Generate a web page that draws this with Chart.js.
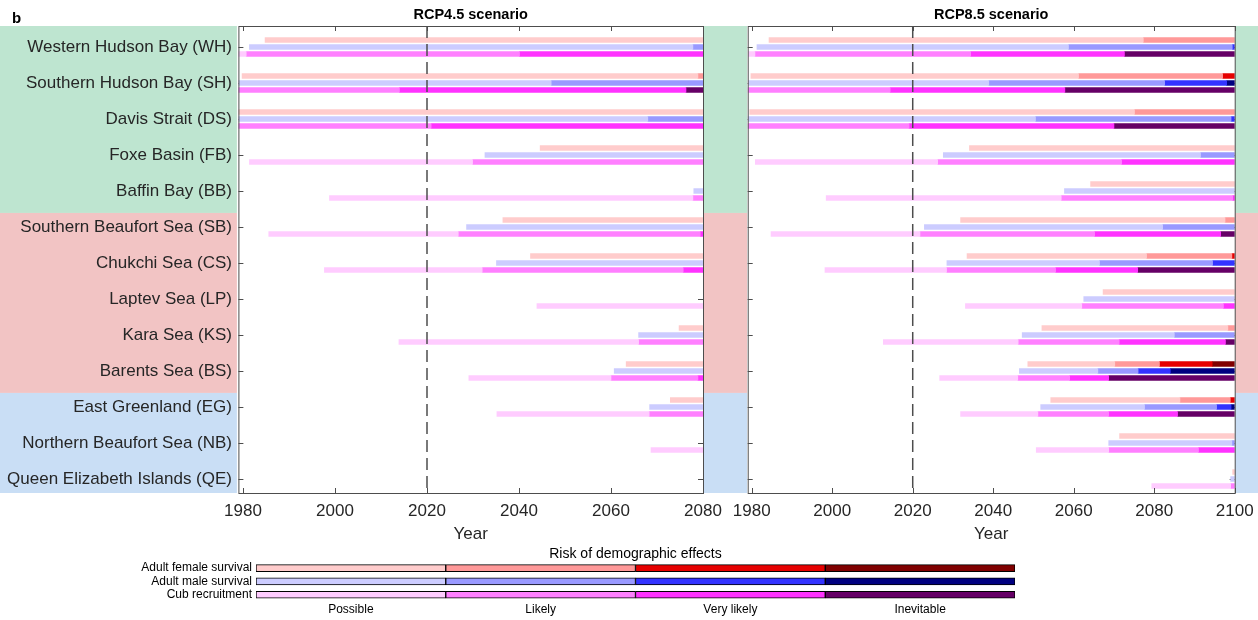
<!DOCTYPE html>
<html>
<head>
<meta charset="utf-8">
<script src="https://cdn.jsdelivr.net/npm/chart.js@4.4.0/dist/chart.umd.min.js"></script>
<style>
  body { margin: 0; background: #fff; font-family: "Liberation Sans", Arial, sans-serif; }
  #wrap { position: relative; width: 1258px; height: 620px; overflow: hidden; }
  canvas { position: absolute; }
  #panelTag { position: absolute; left: 12px; top: 9px; font: bold 15px "Liberation Sans", Arial, sans-serif; color: #000; }
</style>
</head>
<body>
<div id="wrap">
  <canvas id="rcp45" width="747" height="548" style="left:0;top:0"></canvas>
  <canvas id="rcp85" width="580" height="548" style="left:703px;top:0"></canvas>
  <canvas id="legendChart" width="1258" height="74" style="left:0;top:546px"></canvas>
  <div id="panelTag">b</div>
</div>
<script>
Chart.defaults.font.family = '"Liberation Sans", Arial, sans-serif';
Chart.defaults.color = '#262626';

// --- data ---
const regions = [
  'Western Hudson Bay (WH)', 'Southern Hudson Bay (SH)', 'Davis Strait (DS)', 'Foxe Basin (FB)',
  'Baffin Bay (BB)', 'Southern Beaufort Sea (SB)', 'Chukchi Sea (CS)', 'Laptev Sea (LP)',
  'Kara Sea (KS)', 'Barents Sea (BS)', 'East Greenland (EG)', 'Northern Beaufort Sea (NB)',
  'Queen Elizabeth Islands (QE)'
];
const regionGroup = [0, 0, 0, 0, 0, 1, 1, 1, 1, 1, 2, 2, 2];
const riskLevels = ['Possible', 'Likely', 'Very likely', 'Inevitable'];
const sexLabels = ['Adult female survival', 'Adult male survival', 'Cub recruitment'];
const yearTicks = [1980, 2000, 2020, 2040, 2060, 2080, 2100];
const presentYear = 2020;

// year at which each risk level begins: [possible, likely, very likely, inevitable]
const rcp45Female = [
  [1984.8, null, null, null], [1979.8, 2078.9, null, null], [1979, null, null, null], [2044.6, null, null, null],
  [null, null, null, null], [2036.5, null, null, null], [2042.5, null, null, null], [null, null, null, null],
  [2074.8, null, null, null], [2063.3, null, null, null], [2072.9, null, null, null], [null, null, null, null],
  [null, null, null, null]
];
const rcp45Male = [
  [1981.4, 2077.8, null, null], [1979, 2047, null, null], [1979, 2068, null, null], [2032.6, null, null, null],
  [2078, null, null, null], [2028.6, null, null, null], [2035.1, null, null, null], [null, null, null, null],
  [2066, null, null, null], [2060.7, null, null, null], [2068.4, null, null, null], [null, null, null, null],
  [null, null, null, null]
];
const rcp45Cub = [
  [1979, 1980.7, 2040.1, null], [null, 1979, 2014, 2076.3], [null, 1979, 2020.9, null], [1981.4, 2029.9, null, null],
  [1998.8, 2077.8, null, null], [1985.6, 2026.8, 2079.4, null], [1997.7, 2032, 2075.7, null], [2043.9, null, null, null],
  [2013.9, 2066, null, null], [2029.1, 2060, 2078.9, null], [2035.2, 2068.3, null, null], [2068.7, null, null, null],
  [null, null, null, null]
];
const rcp85Female = [
  [1984.3, 2077.3, null, null], [1979.8, 2061.2, 2097, null], [1979.5, 2075.1, null, null], [2034.1, null, null, null],
  [2064.2, null, null, null], [2031.9, 2097.6, null, null], [2033.5, 2078.1, 2099.3, null], [2067.3, null, null, null],
  [2052.1, 2098.3, null, null], [2048.6, 2070.2, 2081.3, 2094.4], [2054.3, 2086.4, 2098.9, null], [2071.4, null, null, null],
  [2099.5, null, null, null]
];
const rcp85Male = [
  [1981.3, 2058.7, 2099.4, null], [1979.2, 2038.9, 2082.6, 2098], [1979, 2050.5, 2099.1, null], [2027.6, 2091.5, null, null],
  [2057.7, null, null, null], [2022.9, 2082.1, null, null], [2028.5, 2066.4, 2094.5, null], [2062.5, null, null, null],
  [2047.2, 2085, null, null], [2046.5, 2066, 2076, 2084], [2051.8, 2077.6, 2095.5, 2099.1], [2068.7, 2099.3, null, null],
  [2099, null, null, null]
];
const rcp85Cub = [
  [1979.2, 1980.8, 2034.4, 2072.6], [null, 1979, 2014.4, 2057.8], [null, 1979, 2019.1, 2070], [1980.9, 2026.2, 2071.9, null],
  [1998.5, 2056.9, 2099.5, null], [1984.8, 2021.8, 2065.2, 2096.5], [1998.2, 2028.4, 2055.5, 2075.9], [2033.1, 2062, 2097.2, null],
  [2012.7, 2046.2, 2071.3, 2097.7], [2026.7, 2046.1, 2059, 2068.7], [2031.9, 2051.1, 2068.7, 2085.8], [2050.7, 2068.7, 2091, null],
  [2079.4, 2099, null, null]
];

// --- styles ---
const femaleColors = ['#ffcccc', '#ff9999', '#e60000', '#800000'];
const maleColors = ['#ccccff', '#9999ff', '#3333ff', '#000080'];
const cubColors = ['#ffccff', '#ff80ff', '#ff33ff', '#660066'];
const groupColors = ['#bee5d0', '#f2c4c4', '#c9def5'];
const axisColor = '#4d4d4d';

// one dataset per risk level; each bar runs until the next level starts
function segments(starts, endYear, offset, colors) {
  return colors.map((c, k) => {
    const data = [];
    starts.forEach((row, i) => {
      if (row[k] == null) return;
      let end = endYear;
      for (let j = k + 1; j < row.length; j++) {
        if (row[j] != null) { end = row[j]; break; }
      }
      data.push({ x: [row[k], end], y: i + offset });
    });
    return { data, backgroundColor: c };
  });
}

// coloured patches behind the region names and in the side strips
const regionBands = {
  id: 'regionBands',
  beforeDraw(chart, args, opts) {
    const { ctx, chartArea: a, scales: { y } } = chart;
    ctx.save();
    groupColors.forEach((col, g) => {
      const rows = regionGroup.map((v, i) => v === g ? i : -1).filter(i => i >= 0);
      const r0 = rows[0], r1 = rows[rows.length - 1];
      const top = r0 === 0 ? a.top : y.getPixelForValue(r0 - 0.39);
      const bottom = r1 === regions.length - 1 ? a.bottom : y.getPixelForValue(r1 + 0.61);
      ctx.fillStyle = col;
      if (opts.labels) ctx.fillRect(0, top, a.left - 1.5, bottom - top);
      ctx.fillRect(a.right + 0.5, top, chart.width - a.right, bottom - top);
    });
    ctx.restore();
  },
  // inward row ticks sit under the bars
  beforeDatasetsDraw(chart) {
    const { ctx, chartArea: a, scales: { y } } = chart;
    ctx.save();
    ctx.strokeStyle = axisColor;
    ctx.lineWidth = 1;
    ctx.beginPath();
    regions.forEach((r, i) => {
      const py = Math.round(y.getPixelForValue(i)) + 0.5;
      ctx.moveTo(a.left, py); ctx.lineTo(a.left + 5, py);
      ctx.moveTo(a.right, py); ctx.lineTo(a.right - 5, py);
    });
    ctx.stroke();
    ctx.restore();
  }
};

// box, year ticks and the dashed "present" line
const axesFrame = {
  id: 'axesFrame',
  afterDatasetsDraw(chart) {
    const { ctx, chartArea: a, scales: { x } } = chart;
    ctx.save();
    const xd = x.getPixelForValue(presentYear);
    ctx.strokeStyle = axisColor;
    ctx.lineWidth = 1.5;
    ctx.setLineDash([12, 6]);
    ctx.beginPath(); ctx.moveTo(xd, a.top); ctx.lineTo(xd, a.bottom); ctx.stroke();
    ctx.setLineDash([]);
    ctx.lineWidth = 1;
    ctx.strokeRect(a.left + 0.5, a.top + 0.5, a.right - a.left, a.bottom - a.top);
    ctx.beginPath();
    x.ticks.forEach(t => {
      const px = Math.round(x.getPixelForValue(t.value)) + 0.5;
      ctx.moveTo(px, a.bottom); ctx.lineTo(px, a.bottom - 5);
      ctx.moveTo(px, a.top); ctx.lineTo(px, a.top + 5);
    });
    ctx.stroke();
    ctx.restore();
  }
};

function scenarioChart(id, title, female, male, cub, endYear, withLabels, padLeft, padRight) {
  const datasets = [
    ...segments(female, endYear, -0.194, femaleColors),
    ...segments(male, endYear, 0, maleColors),
    ...segments(cub, endYear, 0.194, cubColors)
  ];
  return new Chart(document.getElementById(id), {
    type: 'bar',
    data: { datasets },
    options: {
      indexAxis: 'y',
      responsive: false,
      animation: false,
      events: [],
      layout: { padding: { left: padLeft, right: padRight, top: 0, bottom: 0 } },
      datasets: { bar: { grouped: false, barThickness: 5, borderWidth: 0 } },
      plugins: {
        legend: { display: false },
        tooltip: { enabled: false },
        title: {
          display: true, text: title, fullSize: false, color: '#000',
          font: { size: 14.5, weight: 'bold' }, padding: { top: 6.3, bottom: 2.3 }
        },
        regionBands: { labels: withLabels }
      },
      scales: {
        x: {
          type: 'linear', min: 1979, max: endYear,
          afterBuildTicks: s => { s.ticks = yearTicks.filter(v => v >= s.min && v <= s.max).map(v => ({ value: v })); },
          ticks: { callback: v => String(v), font: { size: 17 }, padding: 8, maxRotation: 0, autoSkip: false },
          grid: { display: false, drawTicks: false },
          border: { display: false },
          title: { display: true, text: 'Year', font: { size: 17 }, padding: { top: 0, bottom: 3.8 } },
          afterFit: s => { s.height = 55; }
        },
        y: {
          type: 'linear', reverse: true, offset: false, min: -0.583, max: 12.389,
          display: withLabels,
          afterBuildTicks: s => { s.ticks = regions.map((r, i) => ({ value: i })); },
          ticks: { callback: v => regions[v], font: { size: 17 }, padding: 6.4, autoSkip: false },
          grid: { display: false, drawTicks: false },
          border: { display: false },
          afterFit: s => { s.width = withLabels ? 238.4 : 0; }
        }
      }
    },
    plugins: [regionBands, axesFrame]
  });
}

scenarioChart('rcp45', 'RCP4.5 scenario', rcp45Female, rcp45Male, rcp45Cub, 2080, true, 0, 44);
scenarioChart('rcp85', 'RCP8.5 scenario', rcp85Female, rcp85Male, rcp85Cub, 2100, false, 44.7, 48.3);

// --- legend: risk levels x demographic rates ---
new Chart(document.getElementById('legendChart'), {
  type: 'bar',
  data: {
    labels: sexLabels,
    datasets: riskLevels.map((lv, k) => ({
      label: lv,
      data: sexLabels.map(() => 1),
      backgroundColor: [femaleColors[k], maleColors[k], cubColors[k]],
      borderColor: '#000', borderWidth: 1, borderSkipped: false, barThickness: 7
    }))
  },
  options: {
    indexAxis: 'y',
    responsive: false,
    animation: false,
    events: [],
    layout: { padding: { left: 0, right: 243, top: 0, bottom: 0 } },
    plugins: {
      legend: { display: false },
      tooltip: { enabled: false },
      title: {
        display: true, text: 'Risk of demographic effects', fullSize: false, color: '#000',
        font: { size: 14, weight: 'normal', lineHeight: 1.1 }, padding: 0
      }
    },
    scales: {
      x: {
        stacked: true, min: 0, max: riskLevels.length,
        afterBuildTicks: s => { s.ticks = riskLevels.map((lv, k) => ({ value: k + 0.5 })); },
        ticks: { callback: (v, i) => riskLevels[i], font: { size: 12 }, color: '#000', padding: 1, maxRotation: 0, autoSkip: false },
        grid: { display: false, drawTicks: false },
        border: { display: false },
        afterFit: s => { s.height = 18.6; }
      },
      y: {
        stacked: true,
        ticks: { font: { size: 12 }, color: '#000', padding: 4, autoSkip: false },
        grid: { display: false, drawTicks: false },
        border: { display: false },
        afterFit: s => { s.width = 256; }
      }
    }
  }
});
</script>
</body>
</html>
